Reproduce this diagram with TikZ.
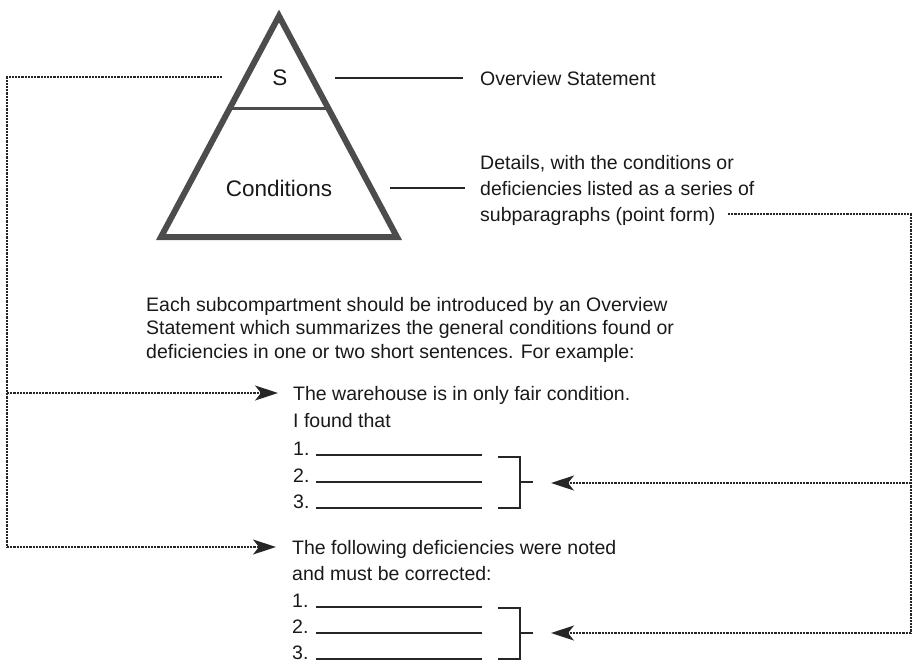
\documentclass[tikz,border=0pt]{standalone}
\usepackage{fontspec}
\setmainfont{Liberation Sans}
\usetikzlibrary{arrows.meta,calc}
\begin{document}
\begin{tikzpicture}[x=1pt,y=-1pt,
  txt/.style={anchor=base west, inner sep=0pt, text=black!90, font=\fontsize{19.5}{26}\selectfont},
  bigtxt/.style={inner sep=0pt, text=black!90, font=\fontsize{22.5}{26}\selectfont},
  solidline/.style={line width=1.5pt, draw=black!85},
  brack/.style={line width=1.9pt, draw=black!85},
  dashline/.style={line width=1.5pt, draw=black!85, dash pattern=on 2.2pt off 1pt},
  tipped/.style={-{Stealth[length=23pt,width=15pt,inset=6pt]}}
]
\useasboundingbox (0,0) rectangle (913,662);

% pyramid
\coordinate (apex) at (279,16);
\coordinate (bl) at (161,237);
\coordinate (br) at (397,237);
\draw[line width=6pt, draw=black!70, line join=miter] (apex) -- (bl) -- (br) -- cycle;
\coordinate (cutL) at ($(apex)!0.4163!(bl)$);
\coordinate (cutR) at ($(apex)!0.4163!(br)$);
\draw[line width=3pt, draw=black!70] (cutL) -- (cutR);
\node[bigtxt] (s) at (280,78) {S};
\node[bigtxt] (cond) at (279,188) {Conditions};

% right labels
\node[txt] (ov) at (480,85) {Overview Statement};
\node[txt] (d1) at (480,169) {Details, with the conditions or};
\node[txt] (d2) at (480,195) {deficiencies listed as a series of};
\node[txt] (d3) at (480,221) {subparagraphs (point form)};
\coordinate (sR) at (335,78);
\coordinate (ovL) at (463,78);
\draw[solidline] (sR) -- (ovL);
\coordinate (cR) at (390,188);
\coordinate (d2L) at (465,188);
\draw[solidline] (cR) -- (d2L);

% paragraph
\node[txt] (p1) at (146,311) {Each subcompartment should be introduced by an Overview};
\node[txt] (p2) at (146,334.5) {Statement which summarizes the general conditions found or};
\node[txt] (p3) at (146,358) {deficiencies in one or two short sentences. For example:};

% example 1
\node[txt] (a0) at (293,400) {The warehouse is in only fair condition.};
\node[txt] (a1) at (293,427) {I found that};
\node[txt] (a2) at (293,455) {1.};
\node[txt] (a3) at (293,482) {2.};
\node[txt] (a4) at (293,508) {3.};
\foreach \yy in {455,482,508} \draw[solidline] (316,\yy) -- (482,\yy);
\coordinate (b1t) at (498,457);
\coordinate (b1b) at (498,508);
\coordinate (b1m) at (520,482);
\coordinate (b1s) at (533,482);
\draw[brack] (b1t) -| (520,508) -- (b1b);
\draw[brack] (b1m) -- (b1s);

% example 2
\node[txt] (c0) at (292,554) {The following deficiencies were noted};
\node[txt] (c1) at (292,580) {and must be corrected:};
\node[txt] (c2) at (292,607) {1.};
\node[txt] (c3) at (292,633) {2.};
\node[txt] (c4) at (292,659) {3.};
\foreach \yy in {607,633,659} \draw[solidline] (316,\yy) -- (482,\yy);
\coordinate (b2t) at (498,608);
\coordinate (b2b) at (498,659);
\coordinate (b2m) at (520,633);
\coordinate (b2s) at (533,633);
\draw[brack] (b2t) -| (520,659) -- (b2b);
\draw[brack] (b2m) -- (b2s);

% left dashed connector
\coordinate (lS) at (222,77);
\coordinate (lC) at (7,77);
\coordinate (lB1) at (7,393);
\coordinate (lB2) at (7,547);
\coordinate (lT1) at (278,393);
\coordinate (lT2) at (276,547);
\draw[dashline] (lS) -- (lC) -- (lB2);
\draw[dashline,tipped] (lB1) -- (lT1);
\draw[dashline,tipped] (lB2) -- (lT2);

% right dashed connector
\coordinate (rS) at (728,214);
\coordinate (rC) at (911,214);
\coordinate (rB1) at (911,483);
\coordinate (rB2) at (911,633);
\coordinate (rT1) at (551,483);
\coordinate (rT2) at (551,633);
\draw[dashline] (rS) -- (rC) -- (rB2);
\draw[dashline,tipped] (rB1) -- (rT1);
\draw[dashline,tipped] (rB2) -- (rT2);
\end{tikzpicture}
\end{document}
